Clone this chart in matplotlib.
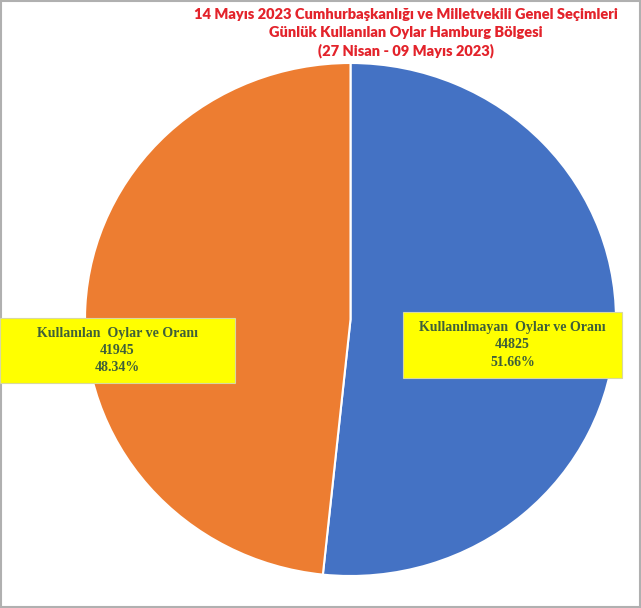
import matplotlib.pyplot as plt
from matplotlib.patches import Rectangle

title_lines = [
    "14 Mayıs 2023 Cumhurbaşkanlığı ve Milletvekili Genel Seçimleri",
    "Günlük Kullanılan Oylar Hamburg Bölgesi",
    "(27 Nisan - 09 Mayıs 2023)",
]
labels = ["Kullanılmayan  Oylar ve Oranı", "Kullanılan  Oylar ve Oranı"]
values = [44825, 41945]
colors = ["#4472C4", "#ED7D31"]

W, H = 641, 608
fig = plt.figure(figsize=(W / 100, H / 100), dpi=100)

# pie is slightly stretched (wider than tall), so no equal aspect
ax = fig.add_axes([85 / W, 32 / H, 531 / W, 513 / H])
ax.pie(values, colors=colors, startangle=90, counterclock=False,
       wedgeprops=dict(edgecolor="white", linewidth=1.5))
ax.set_aspect("auto")
ax.set_xlim(-1, 1)
ax.set_ylim(-1, 1)

fig.text(406 / W, 1 - 8 / H, "\n".join(title_lines), ha="center", va="top",
         color="#E3232B", fontsize=10.5, fontweight="heavy", family="Lato",
         linespacing=1.42)

total = sum(values)
# label boxes in pixel coords: (x0, y0_top, x1, y1_bottom)
boxes = [(403, 312, 622, 378), (0, 318, 235, 383)]
for lab, val, (x0, y0, x1, y1) in zip(labels, values, boxes):
    fig.patches.append(Rectangle((x0 / W, 1 - y1 / H), (x1 - x0) / W, (y1 - y0) / H,
                                 transform=fig.transFigure, facecolor="#FFFF00",
                                 edgecolor="#d8d8a0", linewidth=0.8, zorder=3))
    txt = f"{lab}\n{val}\n{val / total * 100:.2f}%"
    fig.text((x0 + x1) / 2 / W, 1 - (y0 + y1) / 2 / H, txt, ha="center", va="center",
             color="#3E5F3A", fontsize=10, fontweight="bold",
             family="Liberation Serif", linespacing=1.4, zorder=4)

fig.patches.append(Rectangle((0.001, 0.001), 0.998, 0.998, transform=fig.transFigure,
                             facecolor="none", edgecolor="#b0b0b0", linewidth=1.5))

fig.savefig("out.png", dpi=100, facecolor="white")
